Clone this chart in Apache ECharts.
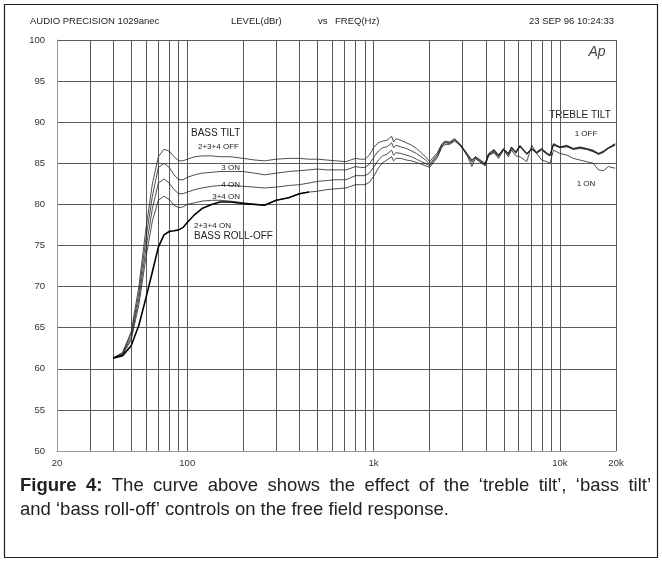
<!DOCTYPE html>
<html>
<head>
<meta charset="utf-8">
<style>
html, body { margin: 0; padding: 0; background: #fff; }
#chart { width: 662px; height: 563px; }
</style>
<script src="https://cdn.jsdelivr.net/npm/echarts@6/dist/echarts.min.js"></script>
</head>
<body>
<div id="chart"></div>
<script>
// frequency points (Hz) shared by the bass tilt curves
var freq = [40, 45, 50, 55, 60, 65, 70, 75, 80, 85, 90, 95, 100,
    110, 120, 135, 150, 170, 200, 230, 260, 300, 350, 400, 450, 500, 560, 630, 710, 800, 850, 900, 950,
    1000, 1060, 1120, 1180, 1250, 1280, 1320, 1400, 1500, 1600, 1700, 1800, 1900, 2000,
    2200, 2330, 2420, 2560, 2720, 2830, 2950, 3060, 3200, 3370, 3520, 3640, 3970, 4140, 4430, 4680,
    4980, 5290, 5500, 5800, 6100, 6640, 7060, 7500, 7980, 8500, 8850, 9230, 10000, 10900, 11800,
    12800, 13900, 15100, 16100, 17100, 18200, 19800]

// level (dBr)
var tiltOff = [61.3, 62.0, 64.5, 70.0, 77.0, 82.5, 85.8, 86.7, 86.5, 85.8, 85.3, 85.3, 85.5,
    85.8, 85.9, 85.9, 85.8, 85.8, 85.6, 85.4, 85.3, 85.5, 85.6, 85.6, 85.5, 85.5, 85.4, 85.3, 85.2, 85.6, 85.5, 85.5, 86.0,
    86.9, 87.5, 87.7, 87.8, 88.3, 87.6, 88.0, 87.8, 87.5, 87.2, 86.8, 86.3, 85.8, 85.2,
    86.3, 87.4, 87.7, 87.6, 88.0, 87.6, 87.2, 86.7, 86.1, 85.4, 85.8, 85.6, 85.0, 86.2, 86.7, 86.0,
    86.8, 86.2, 87.0, 86.4, 87.2, 86.2, 86.8, 86.4, 86.8, 86.3, 86.0, 87.4, 87.0, 87.2, 86.8,
    87.0, 86.8, 86.6, 86.2, 86.5, 86.9, 87.4]
var on3 = [61.3, 61.9, 64.2, 69.2, 75.8, 81.0, 84.5, 85.0, 84.5, 83.6, 83.0, 83.0, 83.3,
    83.6, 83.8, 83.9, 84.0, 84.0, 84.0, 83.8, 83.6, 83.8, 84.0, 84.1, 84.2, 84.3, 84.2, 84.2, 84.2, 84.6, 84.5, 84.5, 84.9,
    85.7, 86.5, 86.9, 87.0, 87.5, 86.9, 87.2, 87.0, 86.8, 86.5, 86.2, 85.8, 85.4, 84.9,
    86.1, 87.3, 87.6, 87.5, 87.9, 87.6, 87.1, 86.6, 86.0, 85.3, 85.8, 85.5, 84.9, 86.1, 86.6, 86.0,
    86.7, 86.2, 86.9, 86.4, 87.1, 86.2, 86.8, 86.3, 86.7, 86.2, 86.0, 87.3, 87.0, 87.1, 86.8,
    86.9, 86.8, 86.5, 86.2, 86.4, 86.9, 87.3]
var on4 = [61.3, 61.8, 63.8, 68.5, 74.6, 79.5, 82.6, 83.1, 82.6, 81.8, 81.3, 81.3, 81.5,
    81.8, 82.0, 82.2, 82.3, 82.3, 82.2, 82.1, 82.0, 82.1, 82.3, 82.4, 82.6, 82.8, 82.9, 83.0, 83.0, 83.5, 83.5, 83.5, 83.8,
    84.5, 85.4, 85.9, 86.1, 86.6, 86.0, 86.3, 86.2, 86.0, 85.8, 85.5, 85.2, 85.0, 84.7,
    85.9, 87.1, 87.5, 87.4, 87.8, 87.5, 87.1, 86.6, 85.9, 85.1, 85.7, 85.4, 84.8, 86.0, 86.5, 85.9,
    86.7, 86.1, 86.9, 86.3, 87.1, 86.1, 86.7, 86.3, 86.7, 86.2, 85.9, 87.3, 86.9, 87.1, 86.7,
    86.9, 86.7, 86.5, 86.1, 86.4, 86.8, 87.3]
var on34 = [61.3, 61.7, 63.5, 67.8, 73.5, 78.0, 80.5, 81.0, 80.6, 79.9, 79.6, 79.7, 80.0,
    80.2, 80.4, 80.5, 80.5, 80.4, 80.2, 80.0, 79.9, 80.5, 80.8, 81.3, 81.5, 81.6, 81.8, 81.9, 82.0, 82.4, 82.4, 82.4, 82.7,
    83.4, 84.4, 85.1, 85.4, 85.8, 85.3, 85.6, 85.6, 85.4, 85.3, 85.1, 84.9, 84.7, 84.5,
    85.7, 87.0, 87.3, 87.3, 87.7, 87.4, 87.0, 86.5, 85.8, 84.6, 85.6, 85.3, 84.7, 85.9, 86.4, 85.8,
    86.6, 86.0, 86.8, 86.2, 87.0, 86.1, 86.7, 86.2, 86.6, 86.1, 85.9, 87.2, 86.9, 87.0, 86.7,
    86.8, 86.7, 86.4, 86.1, 86.3, 86.8, 87.2]
// bass roll-off: above ~450 Hz it runs on top of the 3+4 ON curve
var on234 = [61.3, 61.6, 62.8, 65.3, 68.6, 71.8, 74.8, 76.3, 76.7, 76.8, 76.9, 77.2, 77.8,
    78.8, 79.5, 80.0, 80.3, 80.3, 80.1, 80.0, 79.9, 80.5, 80.8, 81.3, 81.5]

// treble tilt 1 ON
var trebleFreq = [3970, 4140, 4430, 4680, 4980, 5290, 5500, 5800, 6100, 6640, 7060, 7500, 7980,
    8500, 8850, 9230, 10000, 10900, 11800, 12800, 13900, 15100, 16100, 17100, 18200, 19800]
var trebleOn = [84.8, 86.0, 86.3, 85.6, 86.6, 85.8, 86.6, 85.9, 85.8, 85.2, 87.2, 86.2, 85.4,
    85.2, 85.0, 86.6, 86.2, 86.0, 85.6, 85.4, 85.2, 85.0, 84.2, 84.1, 84.6, 84.4]

// axis ticks
var gridFreqs = [20, 30, 40, 50, 60, 70, 80, 90, 100, 200, 300, 400, 500, 600, 700, 800, 900,
    1000, 2000, 3000, 4000, 5000, 6000, 7000, 8000, 9000, 10000, 20000]
var labelFreqs = [20, 100, 1000, 10000, 20000]

function pairs(xs, ys) {
    return ys.map(function (y, i) { return [xs[i], y] })
}

var font = 'Liberation Sans, Arial, sans-serif'

function thin(name, ys) {
    return {
        name: name,
        type: 'line',
        data: pairs(freq, ys),
        symbol: 'none',
        lineStyle: { color: '#222', width: 0.8 }
    }
}

function label(text, x, y, size, align) {
    return {
        type: 'text',
        x: x,
        y: y,
        style: {
            text: text,
            font: size + 'px ' + font,
            fill: '#222',
            align: align || 'left',
            verticalAlign: 'middle'
        }
    }
}

// first caption line is justified to the column width in the original
var ctx = document.createElement('canvas').getContext('2d')
function justified(words, boldCount, x0, x1, y, size) {
    var fonts = words.map(function (w, i) {
        return (i < boldCount ? 'bold ' : '') + size + 'px ' + font
    })
    var widths = words.map(function (w, i) {
        ctx.font = fonts[i]
        return ctx.measureText(w).width
    })
    var total = widths.reduce(function (a, b) { return a + b }, 0)
    var gap = (x1 - x0 - total) / (words.length - 1)
    var x = x0
    return words.map(function (w, i) {
        var el = {
            type: 'text',
            x: x,
            y: y,
            style: { text: w, font: fonts[i], fill: '#222', verticalAlign: 'middle' }
        }
        x += widths[i] + gap
        return el
    })
}

var captionWords = ['Figure', '4:', 'The', 'curve', 'above', 'shows', 'the', 'effect', 'of', 'the',
    '\u2018treble', 'tilt\u2019,', '\u2018bass', 'tilt\u2019']

var chart = echarts.init(document.getElementById('chart'))
chart.setOption({
    animation: false,
    backgroundColor: '#fff',
    grid: {
        left: 57,
        right: 46,
        top: 40,
        bottom: 112
    },
    xAxis: {
        type: 'log',
        logBase: 10,
        min: 20,
        max: 20000,
        axisLine: { show: true, lineStyle: { color: '#999', width: 1 } },
        axisTick: { show: false, customValues: gridFreqs },
        splitLine: { show: true, lineStyle: { color: '#5a5a5a', width: 1 } },
        axisLabel: {
            customValues: labelFreqs,
            margin: 7,
            fontSize: 9.5,
            fontFamily: font,
            color: '#333',
            formatter: function (v) {
                return v >= 1000 ? (v / 1000) + 'k' : String(v)
            }
        }
    },
    yAxis: {
        type: 'value',
        min: 50,
        max: 100,
        interval: 5,
        axisLine: { show: true, lineStyle: { color: '#999', width: 1 } },
        axisTick: { show: false },
        splitLine: { show: true, lineStyle: { color: '#5a5a5a', width: 1 } },
        axisLabel: {
            margin: 12,
            fontSize: 9.5,
            fontFamily: font,
            color: '#333'
        }
    },
    series: [
        thin('2+3+4 OFF', tiltOff),
        thin('3 ON', on3),
        thin('4 ON', on4),
        thin('3+4 ON', on34),
        {
            name: '2+3+4 ON',
            type: 'line',
            data: pairs(freq, on234),
            symbol: 'none',
            lineStyle: { color: '#000', width: 1.6 }
        },
        {
            name: '1 ON',
            type: 'line',
            data: pairs(trebleFreq, trebleOn),
            symbol: 'none',
            lineStyle: { color: '#222', width: 0.8 }
        }
    ],
    graphic: [
        {
            type: 'rect',
            shape: { x: 4.5, y: 4.5, width: 653, height: 553 },
            style: { fill: 'none', stroke: '#222', lineWidth: 1.2 }
        },
        label('AUDIO PRECISION 1029anec', 30, 21, 9.5),
        label('LEVEL(dBr)', 231, 21, 9.5),
        label('vs', 318, 21, 9.5),
        label('FREQ(Hz)', 335, 21, 9.5),
        label('23 SEP 96 10:24:33', 614, 21, 9.5, 'right'),
        {
            type: 'text',
            x: 597,
            y: 52,
            style: {
                text: 'Ap',
                font: 'italic 14px ' + font,
                fill: '#444',
                align: 'center',
                verticalAlign: 'middle'
            }
        },
        label('BASS TILT', 191, 133, 10),
        label('2+3+4 OFF', 198, 147, 8),
        label('3 ON', 240, 168, 8, 'right'),
        label('4 ON', 240, 185, 8, 'right'),
        label('3+4 ON', 240, 197, 8, 'right'),
        label('2+3+4 ON', 194, 226, 8),
        label('BASS ROLL-OFF', 194, 236, 10),
        {
            type: 'text',
            x: 580,
            y: 115,
            style: {
                text: 'TREBLE TILT',
                font: '10px ' + font,
                fill: '#222',
                align: 'center',
                verticalAlign: 'middle',
                backgroundColor: '#fff',
                padding: [1, 2]
            }
        },
        label('1 OFF', 586, 134, 8, 'center'),
        label('1 ON', 586, 184, 8, 'center'),
        label('and \u2018bass roll-off\u2019 controls on the free field response.', 20, 510, 18.5)
    ].concat(justified(captionWords, 2, 20, 651, 486, 18.5))
})
</script>
</body>
</html>
